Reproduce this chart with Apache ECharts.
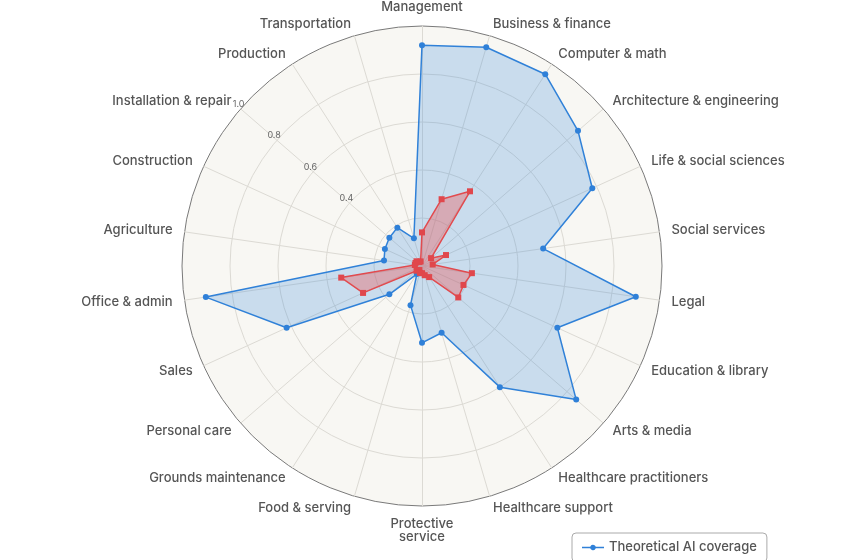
<!DOCTYPE html>
<html><head><meta charset="utf-8">
<script src="https://cdn.jsdelivr.net/npm/echarts@6/dist/echarts.min.js"></script>
<style>html,body{margin:0;padding:0;background:#fff}#c{width:850px;height:560px}</style>
</head><body><div id="c"></div>
<script>
// Categories in counter-clockwise order starting at top
const categories = ["Management","Transportation","Production","Installation & repair","Construction","Agriculture","Office & admin","Sales","Personal care","Grounds maintenance","Food & serving","Protective\nservice","Healthcare support","Healthcare practitioners","Arts & media","Education & library","Legal","Social services","Life & social sciences","Architecture & engineering","Computer & math","Business & finance"];
const theoretical = [0.92,0.12,0.19,0.18,0.17,0.16,0.91,0.62,0.18,0.04,0.17,0.32,0.29,0.60,0.85,0.62,0.90,0.51,0.78,0.86,0.95,0.95];
const observed = [0.14,0.02,0.02,0.03,0.03,0.03,0.34,0.27,0.03,0.02,0.03,0.03,0.04,0.055,0.20,0.19,0.21,0.045,0.11,0.05,0.37,0.29];
const tickLabels = ["0.4","0.6","0.8","1.0"];
const seriesNames = ["Theoretical AI coverage","Observed AI usage"];

const chart = echarts.init(document.getElementById('c'));
const font = 'Inter, Lato, sans-serif';
chart.setOption({
  backgroundColor:'#fff',
  animation:false,
  legend:{left:572,top:533,orient:'vertical',data:[seriesNames[0]],borderColor:'#aaa',borderWidth:1,borderRadius:4,padding:[8,10],
    itemWidth:22,itemHeight:7,
    icon:'path://M0,3.3H8.2A3,3 0 0 1 13.8,3.3H22V4.7H13.8A3,3 0 0 1 8.2,4.7H0Z',
    textStyle:{color:'#555',fontSize:13,fontFamily:font,fontWeight:500}},
  radar:{
    center:[422,266],radius:240,startAngle:90,splitNumber:5,shape:'circle',
    indicator:categories.map(n=>({name:n,min:0,max:1})),
    axisName:{color:'#555',fontSize:13,fontFamily:font,fontWeight:500},
    nameGap:12,
    splitArea:{areaStyle:{color:['#f8f7f3']}},
    splitLine:{lineStyle:{color:['#dcdad4','#dcdad4','#dcdad4','#dcdad4','#dcdad4','#7a7a7a'],width:1}},
    axisLine:{lineStyle:{color:'#dcdad4'}}
  },
  polar:{center:[422,266],radius:240},
  angleAxis:{startAngle:139.09,show:false,min:0,max:360},
  radiusAxis:{min:0,max:1,interval:0.2,axisLine:{show:false},axisTick:{show:false},splitLine:{show:false},
    axisLabel:{color:'#666',fontSize:9,fontFamily:font,margin:-6,
      formatter:v=>{const s=v.toFixed(1);return tickLabels.includes(s)?s:'';}}},
  series:[
    {type:'radar',name:seriesNames[0],symbol:'circle',symbolSize:6,
     itemStyle:{color:'#2f80d8'},lineStyle:{color:'#2f80d8',width:1.5},areaStyle:{color:'rgba(60,140,220,0.36)'},
     data:[{value:theoretical,name:seriesNames[0]}]},
    {type:'radar',name:seriesNames[1],symbol:'rect',symbolSize:6,
     itemStyle:{color:'#e0474c'},lineStyle:{color:'#e0474c',width:1.5},areaStyle:{color:'rgba(235,90,90,0.55)'},
     data:[{value:observed,name:seriesNames[1]}]}
  ]
});
</script></body></html>
